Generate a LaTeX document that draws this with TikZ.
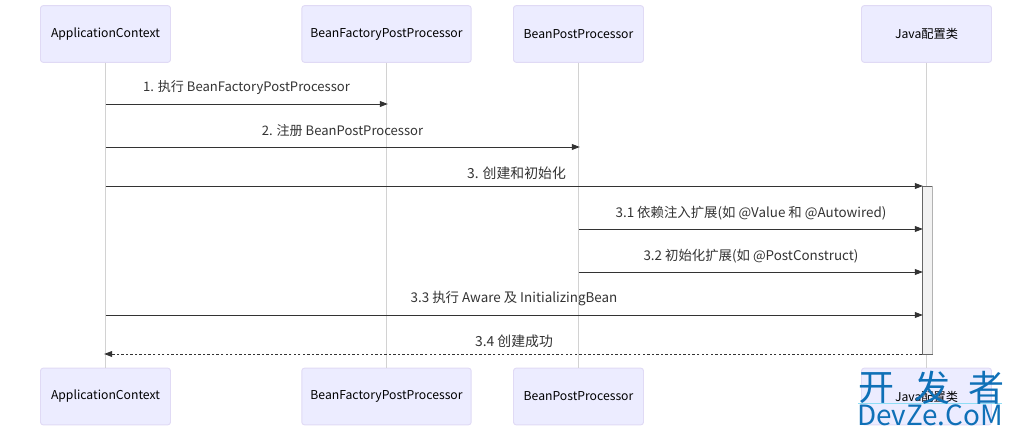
\documentclass[tikz,border=0pt]{standalone}
\usepackage{fontspec}
\setmainfont{Noto Sans CJK SC}
\usetikzlibrary{arrows.meta}
\definecolor{actfill}{HTML}{ECECFF}
\definecolor{actline}{HTML}{E0DAF5}
\definecolor{lifeline}{HTML}{D2D2D2}
\definecolor{msgline}{HTML}{333333}
\definecolor{wm}{HTML}{0F70B7}
\definecolor{wmline}{HTML}{8FDDF5}
\tikzset{
  x=0.75pt,y=-0.75pt,
  actor/.style={draw=actline,fill=actfill,rounded corners=2pt,line width=0.7pt,minimum height=42.5pt,inner sep=0pt,font=\fontsize{9.15pt}{11pt}\selectfont,text=black},
  life/.style={draw=lifeline,line width=0.8pt},
  msg/.style={draw=msgline,line width=0.7pt,shorten >=-1pt,-{Stealth[length=6pt,width=4.4pt,inset=0pt]}},
  msgtext/.style={font=\fontsize{9.8pt}{11pt}\selectfont,text=msgline,inner sep=0pt},
  msgwide/.style={msgtext,font=\fontsize{10.4pt}{11pt}\selectfont},
  msgmid/.style={msgtext,font=\fontsize{10.05pt}{11pt}\selectfont},
  activation/.style={draw=gray!80!black,fill=black!5,line width=0.7pt,inner sep=0pt},
  wmark/.style={text=wm,inner sep=0pt}
}
\begin{document}
\begin{tikzpicture}
\useasboundingbox (0,0) rectangle (1013,438);
\node[actor,minimum width=97.5pt] (a) at (105.5,34) {\raisebox{-1.4pt}{ApplicationContext}};
\node[actor,minimum width=127pt] (b) at (386.5,34) {\raisebox{-1.4pt}{BeanFactoryPostProcessor}};
\node[actor,minimum width=97.5pt] (c) at (578.5,34) {\raisebox{-1.4pt}{BeanPostProcessor}};
\node[actor,minimum width=97.5pt] (d) at (926.5,34) {\raisebox{-1.4pt}{Java配置类}};
\node[actor,minimum width=97.5pt] (a2) at (105.5,396.5) {\raisebox{-1.4pt}{ApplicationContext}};
\node[actor,minimum width=127pt] (b2) at (386.5,396.5) {\raisebox{-1.4pt}{BeanFactoryPostProcessor}};
\node[actor,minimum width=97.5pt] (c2) at (578.5,396.5) {\raisebox{-1.4pt}{BeanPostProcessor}};
\node[actor,minimum width=97.5pt] (d2) at (926.5,396.5) {\raisebox{-1.4pt}{Java配置类}};
\draw[life] (a.south) -- (a2.north);
\draw[life] (b.south) -- (b2.north);
\draw[life] (c.south) -- (c2.north);
\draw[life] (d.south) -- (d2.north);
\node[activation,minimum width=7.5pt,minimum height=126pt] (act) at (927,270) {};
\draw[black!30,line width=0.9pt] (act.north east) -- (act.south east);
% messages
\coordinate (y1) at (0,104);
\coordinate (y2) at (0,147);
\coordinate (y3) at (0,186);
\coordinate (y4) at (0,229);
\coordinate (y5) at (0,272);
\coordinate (y6) at (0,315);
\coordinate (y7) at (0,354);
\draw[msg] (a.south |- y1) -- (b.south |- y1);
\draw[msg] (a.south |- y2) -- (c.south |- y2);
\draw[msg] (a.south |- y3) -- (act.west |- y3);
\draw[msg] (c.south |- y4) -- (act.west |- y4);
\draw[msg] (c.south |- y5) -- (act.west |- y5);
\draw[msg] (a.south |- y6) -- (act.west |- y6);
\draw[msg,dash pattern=on 1.8pt off 1.6pt] (act.west |- y7) -- (a.south |- y7);
\node[msgtext] (t1) at (246.5,88) {1. 执行 BeanFactoryPostProcessor};
\node[msgtext] (t2) at (342.5,131) {2. 注册 BeanPostProcessor};
\node[msgwide] (t3) at (516.5,173) {3. 创建和初始化};
\node[msgmid] (t4) at (751,213) {3.1 依赖注入扩展(如 @Value 和 @Autowired)};
\node[msgmid] (t5) at (751,256) {3.2 初始化扩展(如 @PostConstruct)};
\node[msgmid] (t6) at (514,299) {3.3 执行 Aware 及 InitializingBean};
\node[msgwide] (t7) at (514,341) {3.4 创建成功};
% watermark
\draw[wmline,line width=0.6pt] (858,403.5) -- (1002,403.5);
\node[wmark,font=\fontsize{27pt}{29pt}\selectfont] (w1) at (876,388) {开};
\node[wmark,font=\fontsize{27pt}{29pt}\selectfont] (w2) at (932,388) {发};
\node[wmark,font=\fontsize{27pt}{29pt}\selectfont] (w3) at (986,388) {者};
\node[wmark,font=\fontsize{20.9pt}{22pt}\selectfont] (w4) at (930,415.5) {DevZe.CoM};
\end{tikzpicture}
\end{document}
